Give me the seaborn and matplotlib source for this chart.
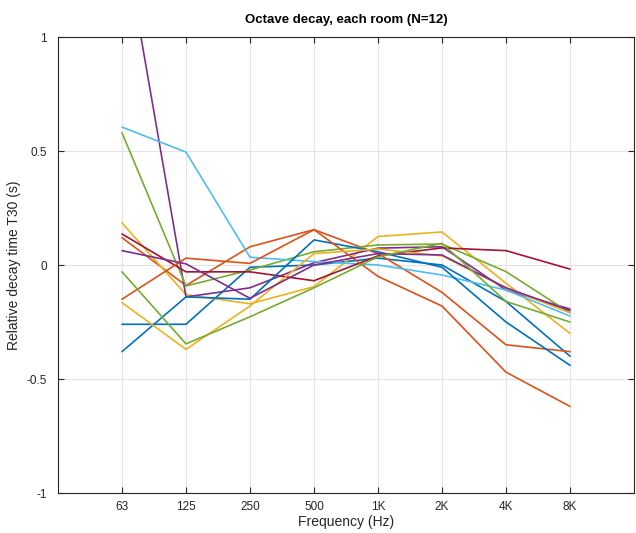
import numpy as np
import pandas as pd
import matplotlib
matplotlib.use("Agg")
import matplotlib.pyplot as plt
import seaborn as sns

# Octave bands and their labels
bands = ["63", "125", "250", "500", "1K", "2K", "4K", "8K"]

# Relative T30 per octave band, one list per room
room01 = [-0.26, -0.26, -0.01, 0.00, 0.03, 0.00, -0.16, -0.40]
room02 = [0.12, -0.09, 0.08, 0.155, 0.05, -0.12, -0.35, -0.38]
room03 = [0.185, -0.13, -0.17, -0.095, 0.125, 0.145, -0.08, -0.30]
room04 = [1.48, -0.14, -0.10, 0.01, 0.074, 0.08, -0.11, -0.193]
room05 = [0.58, -0.092, -0.022, 0.058, 0.088, 0.092, -0.029, -0.21]
room06 = [0.605, 0.495, 0.034, 0.015, 0.00, -0.044, -0.11, -0.224]
room07 = [0.136, -0.03, -0.03, -0.069, 0.04, 0.075, 0.063, -0.018]
room08 = [-0.38, -0.14, -0.15, 0.11, 0.058, -0.01, -0.25, -0.44]
room09 = [-0.15, 0.03, 0.007, 0.155, -0.05, -0.18, -0.47, -0.62]
room10 = [-0.165, -0.37, -0.18, 0.05, 0.07, 0.04, -0.10, -0.21]
room11 = [0.063, 0.005, -0.146, 0.0, 0.05, 0.044, -0.10, -0.20]
room12 = [-0.03, -0.346, -0.227, -0.10, 0.036, 0.095, -0.16, -0.25]

rooms = [room01, room02, room03, room04, room05, room06,
         room07, room08, room09, room10, room11, room12]

# MATLAB-style colour order, cycling after seven
line_colors = ["#0072BD", "#D95319", "#EDB120", "#7E2F8E",
               "#77AC30", "#4DBEEE", "#A2142F"]

records = []
for r, vals in enumerate(rooms):
    for b, v in enumerate(vals):
        records.append({"room": f"R{r + 1}", "band": b + 1, "t30": v})
df = pd.DataFrame(records)

palette = {f"R{r + 1}": line_colors[r % len(line_colors)] for r in range(len(rooms))}

sns.set_style("white")
plt.rcParams["font.family"] = ["Liberation Sans", "DejaVu Sans"]

fig = plt.figure(figsize=(6.36, 5.33), dpi=100)
ax = fig.add_axes([58 / 636, 40 / 533, (634 - 58) / 636, (493 - 37) / 533])

sns.lineplot(data=df, x="band", y="t30", hue="room", palette=palette,
             legend=False, linewidth=1.2, ax=ax, estimator=None, sort=False)

ax.set_xlim(0, 9)
ax.set_ylim(-1, 1)
ax.set_xticks(range(1, 9))
ax.set_xticklabels(bands)
ax.set_yticks([-1, -0.5, 0, 0.5, 1])
ax.set_yticklabels(["-1", "-0.5", "0", "0.5", "1"])
ax.grid(True, color="#e3e3e3", linewidth=0.8)
ax.set_axisbelow(True)
ax.tick_params(direction="in", length=4, width=0.8, color="#262626",
               labelsize=8.5, labelcolor="#262626", top=True, right=True,
               bottom=True, left=True)
ax.tick_params(axis="y", pad=8)
ax.tick_params(axis="x", pad=6)
for s in ax.spines.values():
    s.set_color("#262626")
    s.set_linewidth(0.8)

ax.set_xlabel("Frequency (Hz)", fontsize=10, color="#262626", labelpad=1)
ax.set_ylabel("Relative decay time T30 (s)", fontsize=10, color="#262626", labelpad=4)
ax.set_title("Octave decay, each room (N=12)", fontsize=9.5, fontweight="bold",
             color="#000000", pad=10)

fig.savefig("out.png", dpi=100)
